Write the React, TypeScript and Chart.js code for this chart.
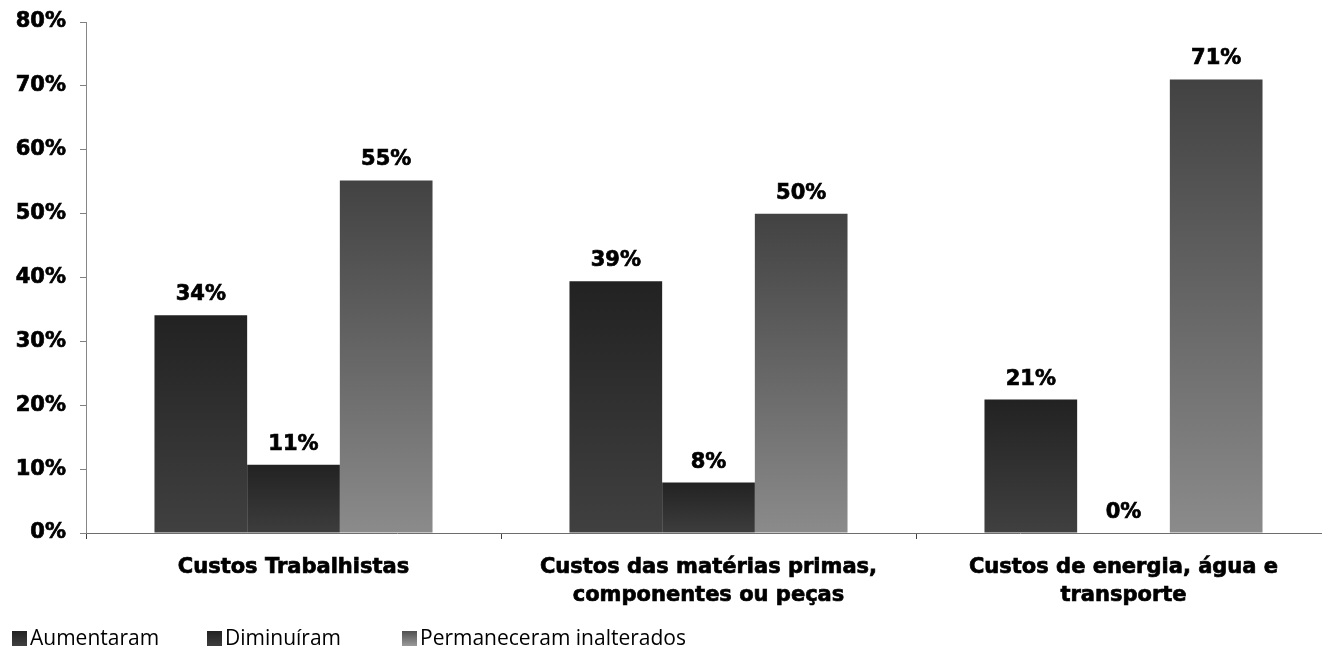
import React, { useEffect, useRef } from "react";
import { Chart, registerables } from "chart.js";

Chart.register(...registerables);

const categories: string[][] = [
  ["Custos Trabalhistas"],
  ["Custos das matérias primas,", "componentes ou peças"],
  ["Custos de energia, água e", "transporte"],
];
const seriesNames = ["Aumentaram", "Diminuíram", "Permaneceram inalterados"];
const aumentaram = [34.1, 39.4, 20.9];
const diminuiram = [10.7, 7.9, 0];
const permaneceram = [55.2, 50.0, 71.0];
const yTicks = [0, 10, 20, 30, 40, 50, 60, 70, 80];

const seriesColors: [string, string][] = [
  ["#222222", "#404040"],
  ["#222222", "#3d3d3d"],
  ["#424242", "#8b8b8b"],
];

const FONT = "'DejaVu Sans', Verdana, sans-serif";
const FSIZE = 21;
const STROKE = 0.7;

function gradientFill(top: string, bottom: string) {
  return (ctx: any) => {
    const chart = ctx.chart;
    const area = chart.chartArea;
    if (!area || ctx.type !== "data") return bottom;
    const y = chart.scales.y;
    const yTop = y.getPixelForValue(ctx.raw);
    const yBase = y.getPixelForValue(0);
    if (yBase - yTop < 1) return bottom;
    const g = chart.ctx.createLinearGradient(0, yTop, 0, yBase);
    g.addColorStop(0, top);
    g.addColorStop(1, bottom);
    return g;
  };
}

const valueLabels = {
  id: "valueLabels",
  afterDatasetsDraw(chart: any) {
    const ctx = chart.ctx;
    ctx.save();
    ctx.font = `bold ${FSIZE}px ${FONT}`;
    ctx.fillStyle = "#000000";
    ctx.strokeStyle = "#000000";
    ctx.lineWidth = STROKE;
    ctx.textAlign = "center";
    ctx.textBaseline = "alphabetic";
    chart.data.datasets.forEach((ds: any, i: number) => {
      const meta = chart.getDatasetMeta(i);
      meta.data.forEach((el: any, j: number) => {
        const v = ds.data[j];
        const t = `${Math.round(v)}%`;
        ctx.fillText(t, el.x, el.y - 15);
        ctx.strokeText(t, el.x, el.y - 15);
      });
    });
    ctx.restore();
  },
};

export default function App() {
  const canvasRef = useRef<HTMLCanvasElement | null>(null);

  useEffect(() => {
    document.body.style.margin = "0";
    const canvas = canvasRef.current;
    if (!canvas) return;
    const chart = new Chart(canvas, {
      type: "bar",
      data: {
        labels: categories,
        datasets: [aumentaram, diminuiram, permaneceram].map((d, i) => ({
          label: seriesNames[i],
          data: d,
          backgroundColor: gradientFill(seriesColors[i][0], seriesColors[i][1]),
          borderWidth: 0,
          categoryPercentage: 0.67,
          barPercentage: 1.0,
        })),
      },
      options: {
        responsive: false,
        animation: false,
        devicePixelRatio: 1,
        layout: { padding: { top: 22, right: 0, left: 0, bottom: 0 } },
        plugins: {
          legend: { display: false },
          tooltip: { enabled: false },
        },
        scales: {
          x: {
            grid: {
              display: true,
              drawOnChartArea: false,
              drawTicks: true,
              tickLength: 6,
              color: "#404040",
              offset: true,
            },
            border: { display: true, color: "#6e6e6e", width: 1 },
            ticks: {
              color: "#000000",
              font: { family: FONT, size: FSIZE, weight: "bold", lineHeight: 1.33 },
              padding: 15,
              maxRotation: 0,
              autoSkip: false,
              textStrokeColor: "#000000",
              textStrokeWidth: STROKE,
            },
            afterFit: (s: any) => {
              s.height = 118;
              s.paddingLeft = 0;
              s.paddingRight = 0;
            },
          },
          y: {
            min: 0,
            max: 80,
            afterBuildTicks: (s: any) => {
              s.ticks = yTicks.map((v) => ({ value: v }));
            },
            grid: {
              display: true,
              drawOnChartArea: false,
              drawTicks: true,
              tickLength: 6,
              color: "#808080",
            },
            border: { display: true, color: "#868686", width: 1 },
            ticks: {
              color: "#000000",
              font: { family: FONT, size: FSIZE, weight: "bold" },
              padding: 14,
              callback: (v: any) => `${v}%`,
              textStrokeColor: "#000000",
              textStrokeWidth: STROKE,
            },
            afterFit: (s: any) => {
              s.width = 86;
              s.paddingTop = 0;
              s.paddingBottom = 0;
            },
          },
        },
      },
      plugins: [valueLabels],
    });
    return () => chart.destroy();
  }, []);

  const legendBoxes = seriesNames.map((name, i) => (
    <div
      key={name}
      style={{
        position: "absolute",
        left: 12 + i * 195,
        top: 623,
        height: 28,
        display: "flex",
        alignItems: "center",
        whiteSpace: "nowrap",
      }}
    >
      <div
        style={{
          width: 15,
          height: 15,
          marginRight: 3,
          marginTop: 2,
          background: `linear-gradient(to bottom, ${i === 2 ? "#505050" : seriesColors[i][0]}, ${
            i === 2 ? "#9a9a9a" : seriesColors[i][1]
          })`,
        }}
      />
      <span
        style={{
          fontFamily: "'Open Sans', sans-serif",
          fontSize: 21,
          color: "#000000",
        }}
      >
        {name}
      </span>
    </div>
  ));

  return (
    <div
      style={{
        position: "relative",
        width: 1322,
        height: 651,
        overflow: "hidden",
        background: "#ffffff",
      }}
    >
      <canvas
        ref={canvasRef}
        width={1331}
        height={651}
        style={{ display: "block", width: 1331, height: 651 }}
      />
      {legendBoxes}
    </div>
  );
}
